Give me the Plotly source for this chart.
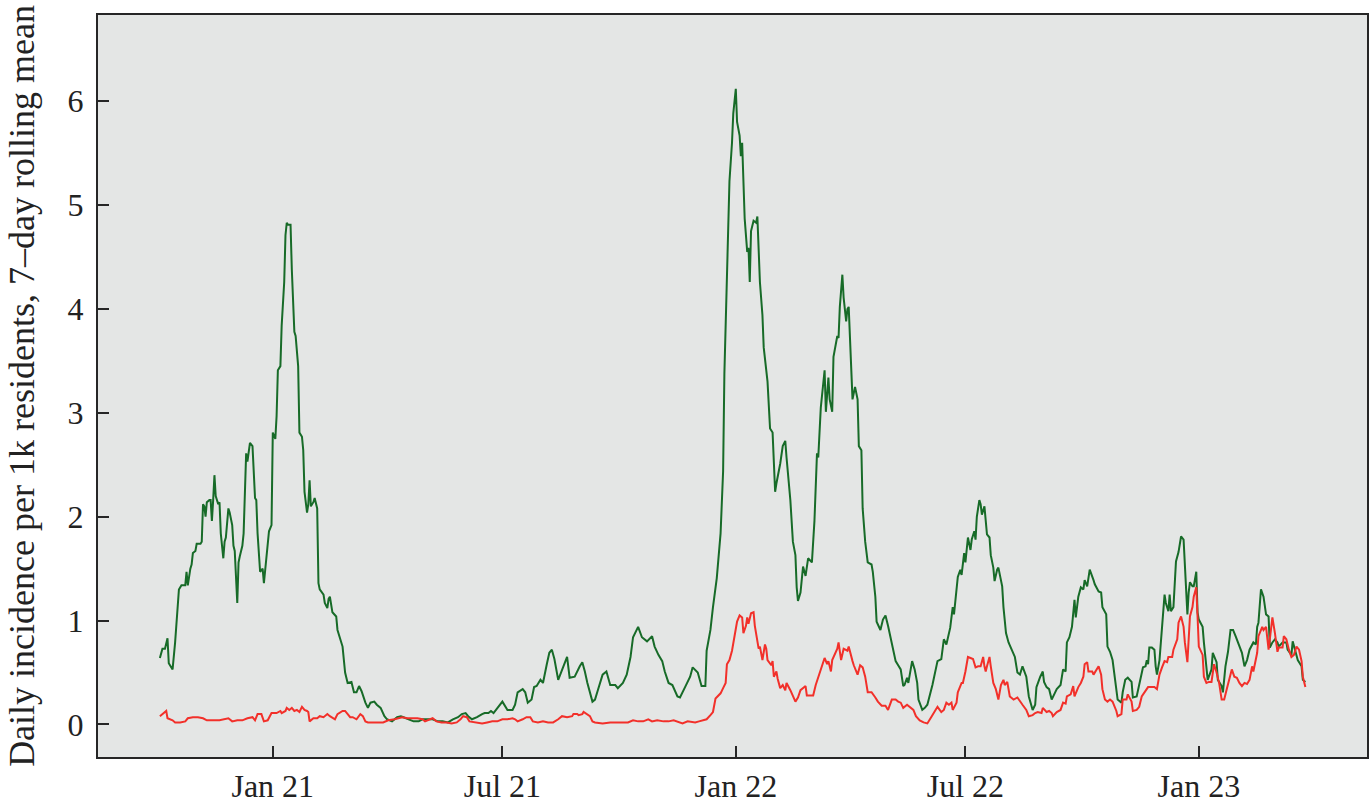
import datetime as dt
import plotly.graph_objects as go

# ---------------- data ----------------
base_date = "2020-10-01"   # day offsets below are counted from this date

green_day = [
    3, 5, 7, 9, 10, 13, 15, 16, 18, 20,
    23, 24, 25, 27, 28, 29, 31, 32, 35, 36,
    37, 38, 39, 40, 42, 43, 44, 45, 46, 47,
    49, 50, 51, 53, 54, 55, 57, 58, 60, 61,
    62, 64, 65, 66, 68, 69, 70, 71, 72, 74,
    76, 77, 78, 79, 80, 82, 84, 85, 87, 89,
    91, 92, 94, 95, 96, 98, 99, 101, 102, 103,
    104, 106, 107, 109, 110, 112, 113, 115, 116, 117,
    119, 120, 121, 122, 124, 125, 127, 128, 129, 132,
    133, 135, 136, 137, 139, 142, 143, 147, 149, 151,
    154, 156, 158, 160, 162, 165, 167, 169, 172, 174,
    177, 180, 182, 186, 190, 193, 195, 199, 203, 207,
    210, 214, 218, 222, 226, 230, 234, 238, 241, 244,
    246, 249, 253, 257, 259, 262, 264, 266, 269, 271,
    273, 277, 281, 283, 285, 289, 291, 293, 296, 298,
    300, 303, 305, 308, 310, 312, 314, 317, 320, 322,
    324, 326, 330, 334, 336, 338, 340, 344, 346, 348,
    352, 355, 358, 362, 364, 368, 371, 374, 376, 380,
    383, 387, 391, 393, 396, 399, 401, 404, 407, 411,
    413, 417, 419, 421, 423, 427, 430, 433, 434, 437,
    439, 442, 445, 447, 448, 450, 451, 452, 454, 455,
    457, 458, 460, 461, 462, 463, 464, 466, 467, 468,
    469, 471, 473, 474, 476, 478, 479, 482, 484, 486,
    487, 488, 489, 492, 494, 496, 497, 500, 502, 504,
    505, 506, 508, 510, 512, 514, 517, 519, 521, 522,
    524, 526, 527, 528, 530, 531, 533, 534, 537, 538,
    539, 541, 542, 544, 545, 546, 548, 549, 551, 553,
    554, 556, 557, 559, 561, 564, 565, 567, 568, 571,
    573, 575, 577, 580, 583, 585, 587, 589, 590, 592,
    593, 596, 598, 600, 601, 604, 606, 608, 611, 612,
    616, 619, 621, 623, 626, 628, 629, 631, 632, 634,
    635, 637, 638, 640, 642, 643, 645, 646, 647, 649,
    650, 651, 653, 655, 657, 658, 660, 661, 663, 664,
    667, 668, 670, 672, 675, 677, 679, 681, 683, 686,
    688, 691, 693, 694, 697, 699, 700, 702, 704, 706,
    708, 710, 713, 715, 717, 718, 720, 722, 724, 725,
    727, 729, 731, 732, 734, 736, 739, 740, 743, 745,
    746, 749, 750, 752, 754, 757, 758, 761, 762, 764,
    766, 769, 770, 773, 776, 778, 780, 781, 782, 783,
    785, 787, 788, 789, 791, 793, 795, 796, 798, 799,
    800, 802, 804, 806, 808, 810, 811, 813, 814, 815,
    817, 818, 820, 821, 822, 825, 826, 828, 829, 832,
    833, 836, 837, 840, 841, 843, 845, 847, 849, 851,
    853, 856, 858, 860, 862, 865, 867, 868, 869, 871,
    873, 875, 877, 878, 880, 882, 884, 885, 888, 891,
    892, 895, 896, 899, 900, 903, 904, 906,
]
green_val = [
    0.64, 0.73, 0.73, 0.83, 0.59, 0.53, 0.79, 0.99, 1.30, 1.34,
    1.34, 1.47, 1.34, 1.50, 1.54, 1.65, 1.67, 1.74, 1.74, 1.76,
    2.12, 2.10, 2.00, 2.14, 2.16, 2.16, 1.96, 2.16, 2.40, 2.20,
    2.12, 2.14, 1.84, 1.60, 1.76, 1.80, 2.08, 2.04, 1.92, 1.72,
    1.67, 1.17, 1.56, 1.62, 1.72, 1.84, 2.16, 2.61, 2.53, 2.71,
    2.68, 2.44, 2.18, 2.16, 1.84, 1.47, 1.50, 1.36, 1.63, 1.86,
    1.92, 2.81, 2.75, 2.97, 3.41, 3.45, 3.84, 4.26, 4.71, 4.83,
    4.81, 4.81, 4.38, 3.78, 3.74, 3.45, 2.81, 2.77, 2.64, 2.24,
    2.04, 2.12, 2.35, 2.10, 2.14, 2.18, 2.08, 1.36, 1.30, 1.25,
    1.17, 1.12, 1.21, 1.23, 1.08, 1.04, 0.91, 0.75, 0.50, 0.40,
    0.41, 0.31, 0.31, 0.37, 0.32, 0.21, 0.16, 0.21, 0.22, 0.19,
    0.16, 0.08, 0.05, 0.03, 0.07, 0.08, 0.07, 0.05, 0.03, 0.03,
    0.05, 0.05, 0.05, 0.03, 0.03, 0.02, 0.05, 0.07, 0.10, 0.11,
    0.08, 0.05, 0.07, 0.10, 0.11, 0.11, 0.13, 0.11, 0.16, 0.19,
    0.22, 0.14, 0.14, 0.19, 0.31, 0.34, 0.31, 0.21, 0.24, 0.36,
    0.37, 0.43, 0.40, 0.58, 0.69, 0.72, 0.63, 0.43, 0.53, 0.60,
    0.65, 0.45, 0.46, 0.56, 0.60, 0.51, 0.40, 0.22, 0.24, 0.32,
    0.48, 0.51, 0.38, 0.38, 0.35, 0.40, 0.48, 0.65, 0.84, 0.94,
    0.84, 0.80, 0.85, 0.75, 0.67, 0.61, 0.51, 0.40, 0.38, 0.27,
    0.26, 0.36, 0.41, 0.46, 0.55, 0.50, 0.37, 0.37, 0.71, 0.91,
    1.13, 1.41, 1.84, 2.44, 3.38, 4.38, 5.01, 5.23, 5.60, 5.88,
    6.12, 5.80, 5.67, 5.47, 5.60, 5.27, 4.87, 4.55, 4.59, 4.26,
    4.75, 4.85, 4.83, 4.89, 4.26, 3.94, 3.63, 3.30, 2.85, 2.81,
    2.48, 2.24, 2.32, 2.51, 2.68, 2.73, 2.57, 2.16, 1.76, 1.63,
    1.32, 1.19, 1.27, 1.52, 1.43, 1.60, 1.56, 1.96, 2.61, 2.57,
    3.05, 3.29, 3.41, 3.01, 3.34, 3.13, 3.01, 3.54, 3.74, 3.72,
    4.02, 4.33, 4.11, 3.88, 4.00, 4.02, 3.37, 3.13, 3.25, 3.13,
    2.68, 2.64, 2.08, 1.76, 1.56, 1.54, 1.47, 1.23, 0.99, 0.91,
    1.01, 1.05, 0.95, 0.79, 0.61, 0.57, 0.53, 0.37, 0.38, 0.45,
    0.40, 0.61, 0.53, 0.40, 0.24, 0.14, 0.16, 0.19, 0.32, 0.38,
    0.61, 0.63, 0.82, 0.77, 0.93, 1.13, 1.06, 1.35, 1.42, 1.49,
    1.44, 1.65, 1.56, 1.80, 1.68, 1.78, 1.86, 1.78, 2.00, 2.16,
    2.12, 2.02, 2.10, 1.83, 1.80, 1.63, 1.51, 1.38, 1.49, 1.51,
    1.33, 1.13, 0.88, 0.79, 0.70, 0.65, 0.50, 0.48, 0.56, 0.46,
    0.27, 0.14, 0.19, 0.36, 0.46, 0.51, 0.41, 0.36, 0.34, 0.24,
    0.29, 0.34, 0.38, 0.53, 0.51, 0.79, 0.84, 0.94, 1.20, 1.03,
    1.23, 1.32, 1.30, 1.39, 1.33, 1.49, 1.39, 1.35, 1.28, 1.27,
    1.13, 1.06, 0.75, 0.70, 0.62, 0.31, 0.24, 0.21, 0.31, 0.43,
    0.45, 0.41, 0.26, 0.27, 0.43, 0.55, 0.56, 0.62, 0.58, 0.74,
    0.74, 0.72, 0.56, 0.48, 0.62, 0.94, 1.25, 1.17, 1.09, 1.25,
    1.09, 1.13, 1.57, 1.66, 1.81, 1.78, 1.49, 1.06, 1.27, 1.37,
    1.33, 1.33, 1.47, 1.08, 1.01, 0.94, 0.79, 0.50, 0.43, 0.53,
    0.69, 0.60, 0.43, 0.37, 0.31, 0.56, 0.70, 0.91, 0.91, 0.85,
    0.79, 0.69, 0.56, 0.62, 0.72, 0.79, 0.77, 0.94, 0.98, 1.30,
    1.23, 1.06, 1.04, 0.74, 0.79, 0.82, 0.79, 0.75, 0.79, 0.79,
    0.72, 0.67, 0.80, 0.68, 0.62, 0.56, 0.43, 0.41,
]

red_day = [
    3, 5, 8, 9, 13, 15, 19, 23, 25, 29,
    33, 37, 40, 45, 50, 57, 60, 64, 68, 72,
    76, 78, 80, 83, 85, 88, 91, 95, 98, 99,
    102, 103, 105, 107, 109, 111, 113, 115, 117, 119,
    120, 121, 124, 127, 129, 132, 135, 137, 141, 143,
    147, 149, 151, 153, 155, 158, 161, 163, 165, 167,
    171, 175, 179, 183, 188, 194, 198, 202, 206, 210,
    212, 216, 218, 221, 225, 229, 233, 237, 240, 242,
    245, 247, 253, 257, 261, 265, 269, 273, 277, 281,
    283, 285, 289, 292, 295, 297, 301, 305, 309, 313,
    317, 320, 324, 328, 329, 332, 333, 336, 337, 340,
    342, 344, 346, 352, 358, 366, 372, 376, 380, 384,
    388, 391, 395, 400, 404, 408, 412, 415, 419, 423,
    425, 428, 434, 437, 439, 441, 445, 447, 449, 450,
    452, 454, 456, 458, 460, 462, 463, 465, 466, 467,
    469, 471, 472, 474, 475, 476, 478, 480, 481, 482,
    485, 486, 487, 489, 490, 492, 494, 496, 497, 500,
    502, 504, 506, 508, 512, 513, 516, 518, 520, 522,
    525, 527, 529, 530, 532, 533, 537, 538, 540, 542,
    545, 546, 549, 550, 553, 555, 557, 559, 561, 564,
    567, 569, 572, 575, 577, 580, 583, 585, 587, 589,
    592, 594, 597, 599, 602, 605, 608, 611, 613, 616,
    619, 621, 623, 625, 627, 628, 631, 632, 635, 636,
    638, 640, 642, 644, 646, 648, 650, 652, 653, 654,
    655, 657, 658, 660, 662, 664, 666, 668, 669, 671,
    673, 676, 679, 681, 683, 686, 688, 691, 693, 695,
    698, 699, 702, 704, 706, 707, 710, 713, 715, 717,
    718, 721, 723, 724, 727, 729, 731, 732, 734, 735,
    738, 739, 742, 743, 745, 746, 748, 750, 752, 754,
    757, 758, 761, 762, 765, 766, 769, 770, 773, 775,
    777, 779, 782, 785, 787, 789, 791, 793, 795, 797,
    798, 801, 802, 805, 806, 808, 810, 811, 813, 815,
    817, 818, 820, 821, 822, 825, 826, 828, 830, 832,
    834, 836, 838, 840, 842, 844, 846, 848, 850, 852,
    854, 856, 858, 860, 862, 864, 865, 868, 869, 872,
    873, 875, 877, 879, 880, 882, 884, 885, 888, 889,
    891, 893, 895, 897, 899, 901, 903, 904, 906,
]
red_val = [
    0.08, 0.10, 0.13, 0.06, 0.04, 0.02, 0.02, 0.03, 0.06, 0.07,
    0.07, 0.06, 0.04, 0.04, 0.04, 0.06, 0.03, 0.04, 0.04, 0.06,
    0.07, 0.04, 0.10, 0.10, 0.03, 0.04, 0.11, 0.11, 0.13, 0.11,
    0.13, 0.16, 0.14, 0.16, 0.13, 0.14, 0.12, 0.17, 0.14, 0.13,
    0.12, 0.03, 0.06, 0.06, 0.08, 0.07, 0.10, 0.08, 0.05, 0.10,
    0.13, 0.13, 0.10, 0.07, 0.07, 0.05, 0.10, 0.08, 0.03, 0.02,
    0.02, 0.02, 0.02, 0.04, 0.05, 0.07, 0.06, 0.06, 0.06, 0.05,
    0.03, 0.05, 0.06, 0.03, 0.02, 0.02, 0.01, 0.02, 0.05, 0.08,
    0.07, 0.03, 0.02, 0.01, 0.02, 0.03, 0.03, 0.05, 0.05, 0.06,
    0.05, 0.03, 0.05, 0.07, 0.07, 0.03, 0.02, 0.03, 0.02, 0.02,
    0.05, 0.08, 0.07, 0.08, 0.10, 0.10, 0.09, 0.10, 0.12, 0.10,
    0.08, 0.03, 0.02, 0.01, 0.02, 0.02, 0.02, 0.04, 0.03, 0.03,
    0.05, 0.03, 0.04, 0.03, 0.03, 0.04, 0.02, 0.01, 0.03, 0.02,
    0.02, 0.03, 0.05, 0.09, 0.12, 0.25, 0.30, 0.35, 0.40, 0.58,
    0.62, 0.71, 0.87, 0.99, 1.05, 1.03, 0.88, 0.95, 1.03, 0.97,
    1.07, 1.08, 0.95, 0.77, 0.73, 0.75, 0.62, 0.77, 0.73, 0.62,
    0.57, 0.61, 0.46, 0.51, 0.44, 0.35, 0.38, 0.33, 0.40, 0.33,
    0.28, 0.22, 0.26, 0.33, 0.37, 0.28, 0.28, 0.28, 0.38, 0.46,
    0.57, 0.64, 0.58, 0.61, 0.51, 0.62, 0.73, 0.79, 0.62, 0.73,
    0.71, 0.75, 0.61, 0.57, 0.48, 0.57, 0.55, 0.46, 0.31, 0.31,
    0.26, 0.22, 0.18, 0.18, 0.14, 0.24, 0.24, 0.22, 0.21, 0.16,
    0.19, 0.17, 0.14, 0.08, 0.04, 0.02, 0.01, 0.07, 0.11, 0.17,
    0.12, 0.14, 0.21, 0.19, 0.21, 0.14, 0.21, 0.31, 0.40, 0.40,
    0.51, 0.65, 0.64, 0.63, 0.55, 0.56, 0.56, 0.65, 0.56, 0.51,
    0.56, 0.65, 0.56, 0.40, 0.34, 0.24, 0.38, 0.43, 0.38, 0.41,
    0.27, 0.24, 0.26, 0.22, 0.19, 0.14, 0.08, 0.09, 0.11, 0.12,
    0.11, 0.16, 0.12, 0.13, 0.11, 0.08, 0.12, 0.14, 0.21, 0.20,
    0.27, 0.29, 0.37, 0.27, 0.36, 0.40, 0.46, 0.58, 0.60, 0.51,
    0.51, 0.48, 0.55, 0.56, 0.48, 0.34, 0.24, 0.22, 0.24, 0.22,
    0.13, 0.08, 0.10, 0.24, 0.24, 0.29, 0.22, 0.13, 0.14, 0.17,
    0.27, 0.31, 0.36, 0.36, 0.36, 0.34, 0.48, 0.55, 0.61, 0.60,
    0.65, 0.65, 0.72, 0.82, 0.98, 1.04, 0.94, 0.79, 0.60, 1.04,
    1.13, 1.23, 1.32, 1.04, 0.75, 0.67, 0.46, 0.40, 0.41, 0.41,
    0.58, 0.50, 0.40, 0.24, 0.24, 0.34, 0.43, 0.53, 0.46, 0.45,
    0.40, 0.37, 0.40, 0.39, 0.43, 0.56, 0.51, 0.69, 0.85, 0.94,
    0.91, 0.94, 0.72, 0.91, 1.03, 0.88, 0.70, 0.74, 0.74, 0.85,
    0.82, 0.72, 0.65, 0.67, 0.75, 0.72, 0.61, 0.46, 0.36,
]

x_tick_dates = ["2021-01-01", "2021-07-01", "2022-01-01", "2022-07-01", "2023-01-01"]
x_tick_labels = ["Jan 21", "Jul 21", "Jan 22", "Jul 22", "Jan 23"]
y_tick_values = [0, 1, 2, 3, 4, 5, 6]
y_title = "Daily incidence per 1k residents, 7\u2013day rolling mean"

# ---------------- build ----------------
b = dt.datetime.fromisoformat(base_date)
green_x = [b + dt.timedelta(days=d) for d in green_day]
red_x = [b + dt.timedelta(days=d) for d in red_day]

FONT = "Liberation Serif, Times New Roman, serif"
AXIS = "#262626"
TXT = "#222222"

fig = go.Figure()
fig.add_trace(go.Scatter(x=green_x, y=green_val, mode="lines",
                         line=dict(color="#176b28", width=2), showlegend=False))
fig.add_trace(go.Scatter(x=red_x, y=red_val, mode="lines",
                         line=dict(color="#f2302a", width=2), showlegend=False))

fig.update_layout(
    width=1370, height=803,
    margin=dict(l=98, r=3, t=15, b=46, autoexpand=False),
    paper_bgcolor="white", plot_bgcolor="#e4e6e5",
    font=dict(family=FONT, size=32, color=TXT),
    showlegend=False,
)
fig.update_xaxes(
    type="date", automargin=False,
    range=["2020-08-16 05:00", "2023-05-13 14:00"],
    tickvals=x_tick_dates, ticktext=x_tick_labels,
    ticks="inside", ticklen=11, tickwidth=1.5, tickcolor=AXIS,
    showline=True, linecolor=AXIS, linewidth=2, mirror=True,
    showgrid=False, zeroline=False,
    tickfont=dict(family=FONT, size=32, color=TXT),
    ticklabelstandoff=0,
)
fig.update_yaxes(
    automargin=False,
    range=[-0.313, 6.83],
    tickvals=y_tick_values,
    ticks="inside", ticklen=11, tickwidth=1.5, tickcolor=AXIS,
    showline=True, linecolor=AXIS, linewidth=2, mirror=True,
    showgrid=False, zeroline=False,
    tickfont=dict(family=FONT, size=32, color=TXT),
    ticklabelstandoff=6,
    title=dict(text=y_title, font=dict(family=FONT, size=36, color=TXT), standoff=22),
)

fig.write_html(
    "out.html",
    config={"displayModeBar": False},
    post_script="document.body.style.margin='0';document.body.style.overflow='hidden';",
)
